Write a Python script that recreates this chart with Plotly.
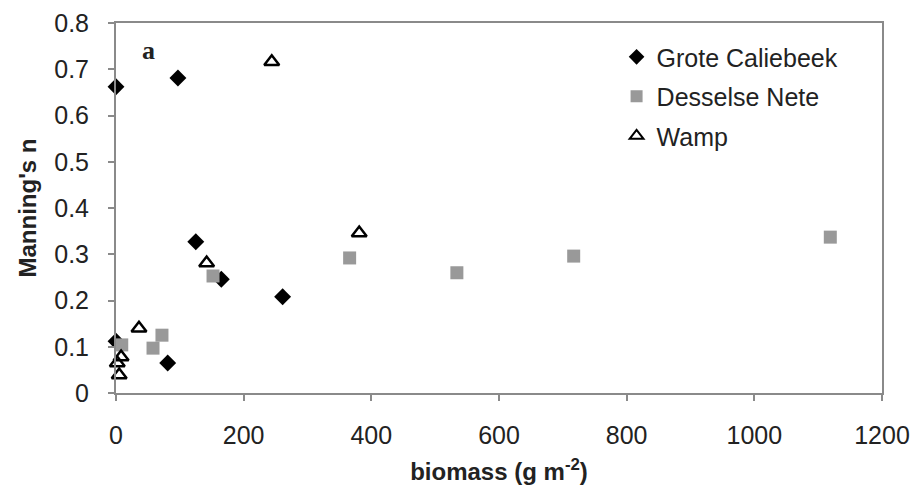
import plotly.graph_objects as go

# Manning's roughness coefficient against plant biomass for three lowland streams
grote_biomass = [0, 97, 0, 125, 165, 261, 81]
grote_n = [0.662, 0.681, 0.112, 0.327, 0.246, 0.208, 0.065]

dessel_biomass = [9, 58, 72, 152, 366, 534, 717, 1119]
dessel_n = [0.104, 0.097, 0.125, 0.253, 0.292, 0.260, 0.296, 0.337]

wamp_biomass = [244, 381, 142, 36, 8, 2, 5]
wamp_n = [0.716, 0.346, 0.281, 0.140, 0.078, 0.065, 0.039]

x_ticks = [0, 200, 400, 600, 800, 1000, 1200]
y_ticks = [0, 0.1, 0.2, 0.3, 0.4, 0.5, 0.6, 0.7, 0.8]
y_tick_text = ["0", "0.1", "0.2", "0.3", "0.4", "0.5", "0.6", "0.7", "0.8"]

FONT = "Liberation Sans, Arial, sans-serif"
AXIS_GREY = "#8a8a8a"

fig = go.Figure()

fig.add_trace(go.Scatter(
    x=grote_biomass, y=grote_n, mode="markers", name="Grote Caliebeek",
    legendgroup="g1",
    marker=dict(symbol="diamond", size=13, color="#000000"),
    cliponaxis=False,
))
fig.add_trace(go.Scatter(
    x=dessel_biomass, y=dessel_n, mode="markers", name="Desselse Nete",
    legendgroup="g2",
    marker=dict(symbol="square", size=13, color="#999999"),
    cliponaxis=False,
))
fig.add_trace(go.Scatter(
    x=wamp_biomass, y=wamp_n, mode="markers", name="Wamp",
    legendgroup="g3",
    marker=dict(symbol="triangle-up-open", size=13, color="#000000",
                line=dict(width=2.5, color="#000000")),
    cliponaxis=False,
))

fig.update_layout(
    width=914, height=498,
    margin=dict(l=116, r=32, t=23, b=105),
    paper_bgcolor="white", plot_bgcolor="white",
    font=dict(family=FONT, size=25, color="#222222"),
    showlegend=True,
    legend=dict(
        x=0.6535, y=0.970, xanchor="left", yanchor="top",
        bgcolor="rgba(0,0,0,0)", borderwidth=0,
        font=dict(family=FONT, size=25, color="#222222"),
        traceorder="grouped", tracegroupgap=4,
        itemsizing="constant",
    ),
    xaxis=dict(
        range=[0, 1200], tickvals=x_ticks, automargin=False,
        showgrid=False, zeroline=False,
        showline=True, linecolor=AXIS_GREY, linewidth=2, mirror=True,
        ticks="outside", ticklen=6, tickcolor=AXIS_GREY, tickwidth=1.5,
        ticklabelstandoff=13,
        title=dict(text="<b>biomass (g m<sup>-2</sup>)</b>",
                   font=dict(family=FONT, size=24, color="#222222"),
                   standoff=15),
    ),
    yaxis=dict(
        range=[0, 0.8], tickvals=y_ticks, ticktext=y_tick_text,
        automargin=False,
        showgrid=False, zeroline=False,
        showline=True, linecolor=AXIS_GREY, linewidth=2, mirror=True,
        ticks="outside", ticklen=6, tickcolor=AXIS_GREY, tickwidth=1.5,
        ticklabelstandoff=14,
        title=dict(text="<b>Manning's n</b>",
                   font=dict(family=FONT, size=24, color="#222222"),
                   standoff=11),
    ),
    annotations=[dict(
        text="<b>a</b>", x=0.042, y=0.927, xref="paper", yref="paper",
        showarrow=False, xanchor="center", yanchor="middle",
        font=dict(family="Liberation Serif, Times New Roman, serif", size=26,
                  color="#222222"),
    )],
)

fig.write_html("out.html")
